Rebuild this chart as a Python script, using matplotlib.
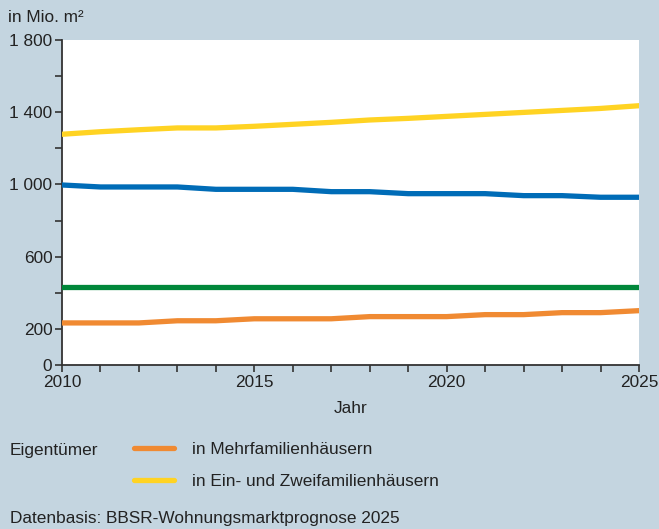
import matplotlib
matplotlib.use("Agg")
import matplotlib.pyplot as plt
from matplotlib.ticker import FixedLocator

plt.rcParams['font.family'] = ['Liberation Sans', 'DejaVu Sans']

years = list(range(2010, 2026))
eigen_ezfh = [1278, 1292, 1303, 1313, 1313, 1322, 1333, 1344, 1357, 1366, 1377, 1388, 1399, 1410, 1421, 1436]
blue_series = [997, 986, 986, 986, 973, 973, 973, 960, 960, 949, 949, 949, 938, 938, 929, 929]
green_series = [430] * 16
eigen_mfh = [233, 233, 233, 245, 245, 256, 256, 256, 268, 268, 268, 279, 279, 290, 290, 301]

ytick_vals = [0, 200, 400, 600, 800, 1000, 1200, 1400, 1600, 1800]
ytick_labels = ['0', '200', '', '600', '', '1 000', '', '1 400', '', '1 800']
xtick_labels = ['2010', '2015', '2020', '2025']

BG = '#c4d5e0'
TXT = '#222222'
W, H = 659, 529
FS = 12.4

fig = plt.figure(figsize=(W / 100, H / 100), dpi=100, facecolor=BG)
ax = fig.add_axes([62 / W, 1 - 365 / H, (639 - 62) / W, (365 - 40) / H])
ax.set_facecolor('white')

lw = 3.8
ax.plot(years, green_series, color='#00873a', lw=lw, solid_capstyle='round', zorder=3)
ax.plot(years, blue_series, color='#006cb7', lw=lw, solid_capstyle='round', zorder=3)
l_mfh, = ax.plot(years, eigen_mfh, color='#f08a32', lw=lw, solid_capstyle='round', zorder=3)
l_ezfh, = ax.plot(years, eigen_ezfh, color='#ffd323', lw=lw, solid_capstyle='round', zorder=3)

ax.set_xlim(2010, 2025)
ax.set_ylim(0, 1800)
ax.set_yticks(ytick_vals)
ax.set_yticklabels(ytick_labels)
ax.set_xticks([int(l) for l in xtick_labels])
ax.set_xticklabels(xtick_labels)
ax.xaxis.set_minor_locator(FixedLocator(years))
ax.tick_params(axis='both', which='both', direction='out', color='#333333', labelcolor=TXT, labelsize=FS)
ax.tick_params(axis='both', which='major', length=5, width=1.2, pad=2)
ax.tick_params(axis='x', which='minor', length=5, width=1.2)
for s in ['top', 'right']:
    ax.spines[s].set_visible(False)
for s in ['left', 'bottom']:
    ax.spines[s].set_color('#333333')
    ax.spines[s].set_linewidth(1.3)

ax.set_xlabel('Jahr', fontsize=FS, color=TXT, labelpad=8)

fig.text(8 / W, 1 - 18 / H, 'in Mio. m²', fontsize=FS, color=TXT, va='center', ha='left')
fig.text(10 / W, 1 - 450 / H, 'Eigentümer', fontsize=FS, color=TXT, va='center', ha='left')
fig.text(10 / W, 1 - 518 / H, 'Datenbasis: BBSR-Wohnungsmarktprognose 2025', fontsize=FS, color=TXT,
         va='center', ha='left')

leg = fig.legend([l_mfh, l_ezfh], ['in Mehrfamilienhäusern', 'in Ein- und Zweifamilienhäusern'],
                 loc='upper left', bbox_to_anchor=(134 / W, 1 - 442 / H), frameon=False,
                 fontsize=FS, handlelength=2.35, handletextpad=1.0, labelspacing=0.98,
                 borderpad=0, borderaxespad=0)
for t in leg.get_texts():
    t.set_color(TXT)

fig.savefig('out.png', dpi=100, facecolor=BG)
